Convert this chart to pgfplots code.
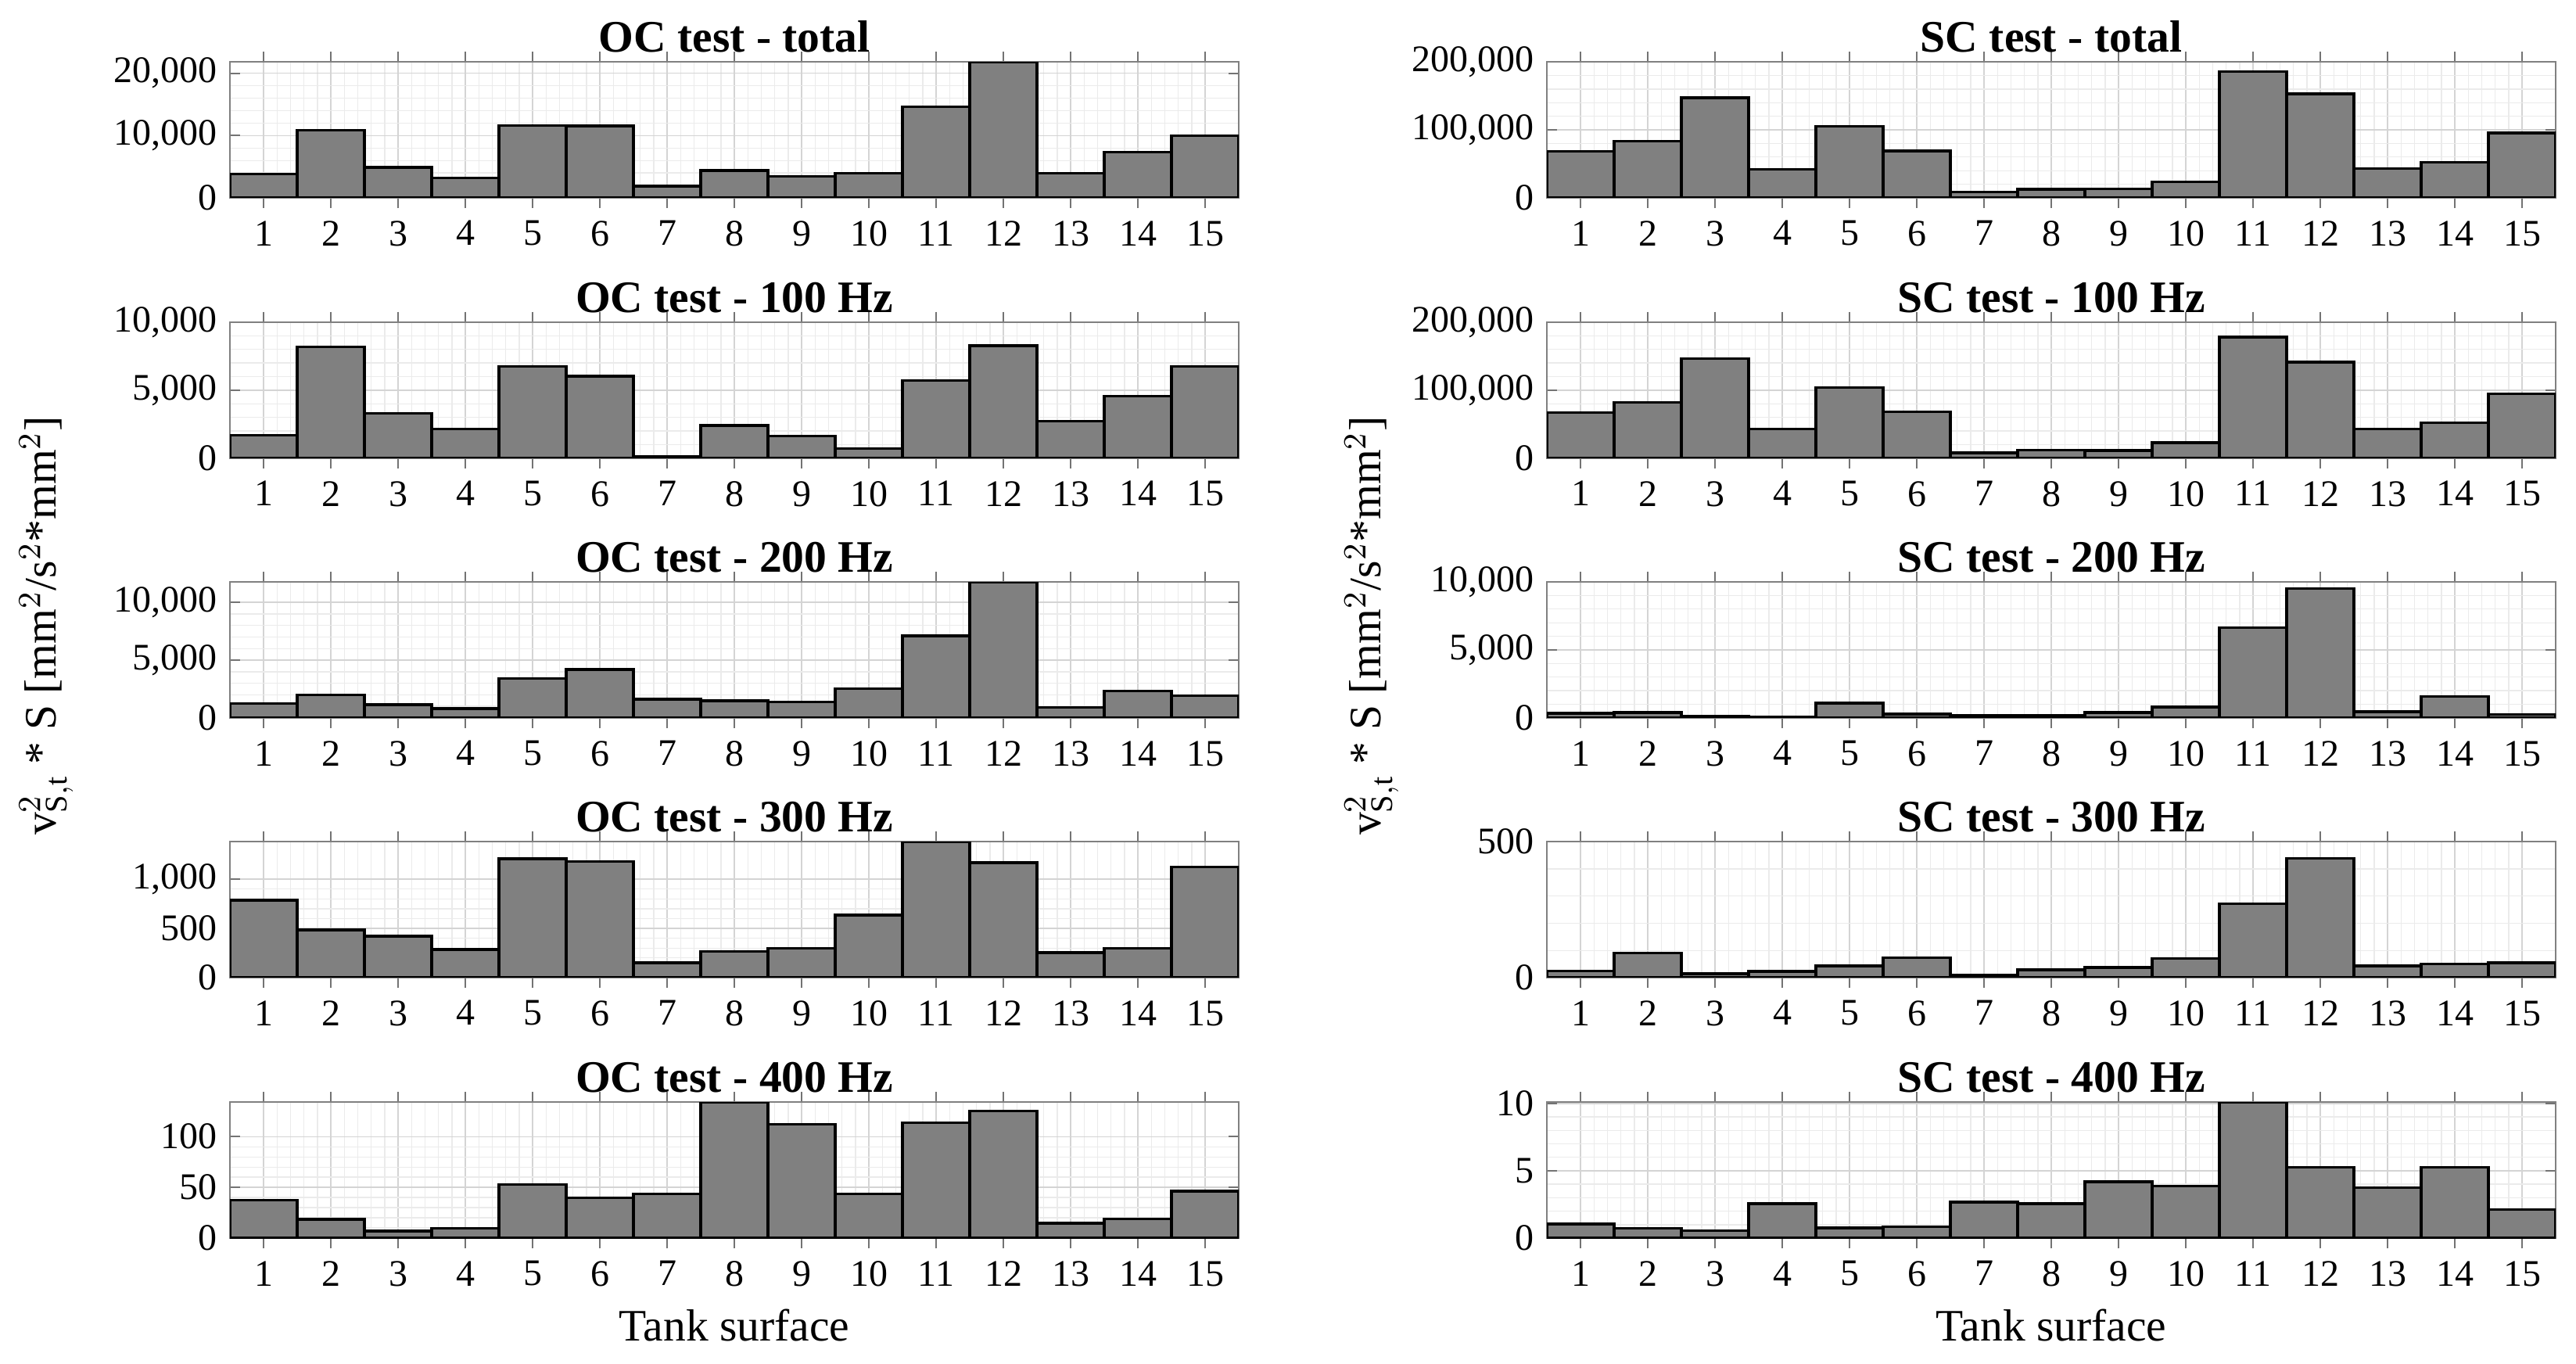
\documentclass[border=0pt]{standalone}
\usepackage{fontspec}
\setmainfont{Liberation Serif}
\usepackage{pgfplots}
\usepackage{pgfplotstable}
\pgfplotsset{compat=1.18}

% columns: surface, total, 100 Hz, 200 Hz, 300 Hz, 400 Hz
\pgfplotstableread{
s tot f100 f200 f300 f400
1 3850 1680 1250 787 37.2
2 10880 8180 2000 485 18.5
3 4900 3310 1140 421 6.9
4 3220 2160 820 285 9.7
5 11630 6750 3430 1208 52.6
6 11550 6040 4200 1181 39.7
7 1880 150 1610 152 43.6
8 4390 2410 1480 267 134
9 3470 1630 1390 299 112
10 3970 730 2520 635 43.6
11 14600 5700 7110 1381 113.6
12 21840 8280 11770 1168 125.4
13 3970 2730 910 253 14.6
14 7320 4550 2340 299 19
15 9960 6750 1930 1125 46.4
}\octab

\pgfplotstableread{
s tot f100 f200 f300 f400
1 68200 67300 350 25 1.05
2 83500 81800 410 91 0.73
3 147100 146800 140 14 0.54
4 42100 42800 80 23 2.57
5 105000 104000 1100 43 0.75
6 69000 68100 290 74 0.84
7 8400 8000 170 10 2.68
8 12600 12200 170 29 2.57
9 13000 11500 390 37 4.18
10 23800 22900 790 70 3.87
11 185800 178200 6650 272 10.1
12 152900 141500 9520 439 5.25
13 43300 42800 450 43 3.74
14 52500 52000 1570 50 5.25
15 95400 94800 250 55 2.11
}\sctab

\pgfplotsset{
  bb/.style={
    width=9.923cm, height=1.338cm, scale only axis,
    anchor=south west,
    xmin=0.5, xmax=15.5, ymin=0,
    enlargelimits=false,
    xtick={1,...,15},
    minor x tick num=4, minor y tick num=4,
    grid=both,
    major grid style={draw=black!17, line width=0.3pt},
    minor grid style={draw=black!8, line width=0.3pt},
    axis line style={draw=black!50, line width=0.45pt},
    tick style={draw=black!55, line width=0.4pt},
    major tick length=2.9pt, minor tick length=0pt,
    tick align=inside,
    scaled y ticks=false,
    /pgf/number format/assume math mode=true,
    yticklabel style={/pgf/number format/.cd, fixed, 1000 sep={,}},
    every tick label/.append style={font=\fontsize{10.5}{12}\selectfont},
    title style={font=\bfseries\fontsize{12.6}{14}\selectfont, yshift=-7pt},
    ybar, bar width=1, bar shift=0pt,
    every axis plot post/.append style={fill=black!50, draw=black, line width=0.75pt},
  },
}

\begin{document}
\begin{tikzpicture}
\useasboundingbox (0,0) rectangle (25.338,13.415);

% OC column
\begin{axis}[bb, at={(2.262cm,11.469cm)}, ymax=21840, ytick={0,10000,20000}, title={OC test - total}]
\addplot table[x=s,y=tot]{\octab};
\end{axis}
\begin{axis}[bb, at={(2.262cm,8.908cm)}, ymax=10000, ytick={0,5000,10000}, title={OC test - 100 Hz}]
\addplot table[x=s,y=f100]{\octab};
\end{axis}
\begin{axis}[bb, at={(2.262cm,6.354cm)}, ymax=11770, ytick={0,5000,10000}, title={OC test - 200 Hz}]
\addplot table[x=s,y=f200]{\octab};
\end{axis}
\begin{axis}[bb, at={(2.262cm,3.800cm)}, ymax=1381, ytick={0,500,1000}, title={OC test - 300 Hz}]
\addplot table[x=s,y=f300]{\octab};
\end{axis}
\begin{axis}[bb, at={(2.262cm,1.238cm)}, ymax=134, ytick={0,50,100}, title={OC test - 400 Hz}]
\addplot table[x=s,y=f400]{\octab};
\end{axis}

% SC column
\begin{axis}[bb, at={(15.215cm,11.469cm)}, ymax=200000, ytick={0,100000,200000}, title={SC test - total}]
\addplot table[x=s,y=tot]{\sctab};
\end{axis}
\begin{axis}[bb, at={(15.215cm,8.908cm)}, ymax=200000, ytick={0,100000,200000}, title={SC test - 100 Hz}]
\addplot table[x=s,y=f100]{\sctab};
\end{axis}
\begin{axis}[bb, at={(15.215cm,6.354cm)}, ymax=10000, ytick={0,5000,10000}, title={SC test - 200 Hz}]
\addplot table[x=s,y=f200]{\sctab};
\end{axis}
\begin{axis}[bb, at={(15.215cm,3.800cm)}, ymax=500, ytick={0,500}, title={SC test - 300 Hz}]
\addplot table[x=s,y=f300]{\sctab};
\end{axis}
\begin{axis}[bb, at={(15.215cm,1.238cm)}, ymax=10.1, ytick={0,5,10}, title={SC test - 400 Hz}]
\addplot table[x=s,y=f400]{\sctab};
\end{axis}

\node[rotate=90, font=\fontsize{12.6}{14}\selectfont] at (0.454,7.26) {v$^{2}_{\mathrm{S,t}}$ * S [mm$^{2}$/s$^{2}$*mm$^{2}$]};
\node[rotate=90, font=\fontsize{12.6}{14}\selectfont] at (13.49,7.26) {v$^{2}_{\mathrm{S,t}}$ * S [mm$^{2}$/s$^{2}$*mm$^{2}$]};
\node[font=\fontsize{12.6}{14}\selectfont] at (7.223,0.38) {Tank surface};
\node[font=\fontsize{12.6}{14}\selectfont] at (20.177,0.38) {Tank surface};
\end{tikzpicture}
\end{document}
